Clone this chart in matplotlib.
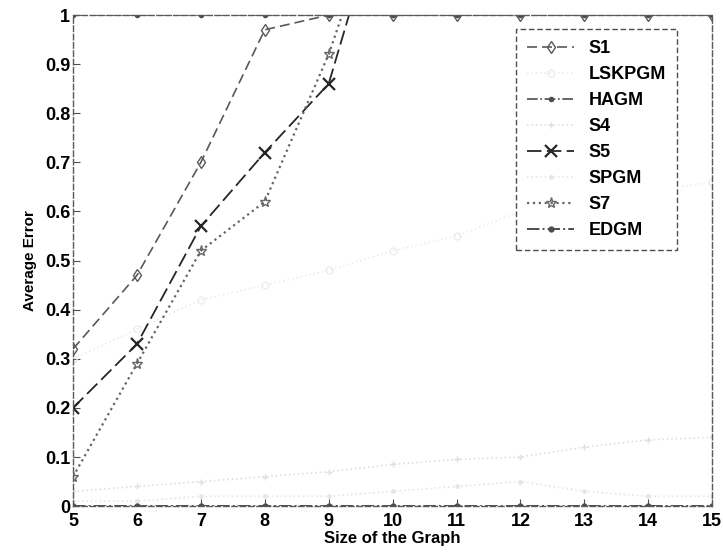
import numpy as np
import matplotlib
matplotlib.use("Agg")
import matplotlib.pyplot as plt

plt.rcParams['font.family'] = ['Liberation Sans', 'DejaVu Sans']
plt.rcParams['font.weight'] = 'bold'

# graph sizes
size = [5, 6, 7, 8, 9, 10, 11, 12, 13, 14, 15]

# average error per method (values above 1 are clipped by the axis)
s1 = [0.32, 0.47, 0.70, 0.97, 1.0, 1.0, 1.0, 1.0, 1.0, 1.0, 1.0]
lskpgm = [0.30, 0.36, 0.42, 0.45, 0.48, 0.52, 0.55, 0.60, 0.62, 0.64, 0.66]
hagm = [1.0, 1.0, 1.0, 1.0, 1.0, 1.0, 1.0, 1.0, 1.0, 1.0, 1.0]
s4 = [0.03, 0.04, 0.05, 0.06, 0.07, 0.085, 0.095, 0.10, 0.12, 0.135, 0.14]
s5 = [0.20, 0.33, 0.57, 0.72, 0.86, 1.3, 1.3, 1.3, 1.3, 1.3, 1.3]
spgm = [0.01, 0.01, 0.02, 0.02, 0.02, 0.03, 0.04, 0.05, 0.03, 0.02, 0.02]
s7 = [0.06, 0.29, 0.52, 0.62, 0.92, 1.3, 1.3, 1.3, 1.3, 1.3, 1.3]
edgm = [0.0, 0.0, 0.0, 0.0, 0.0, 0.0, 0.0, 0.0, 0.0, 0.0, 0.0]

fig = plt.figure(figsize=(7.23, 5.58), dpi=100)
ax = fig.add_axes([0.101, 0.093, 0.884, 0.880])

ax.plot(size, s1, color='0.35', ls=(0, (6, 3)), lw=1.2, marker='d', ms=6, mfc='none', label='S1')
ax.plot(size, lskpgm, color='0.93', ls=':', lw=1.2, marker='o', ms=5, mfc='none', label='LSKPGM')
ax.plot(size, hagm, color='0.3', ls='-.', lw=1.2, marker='.', ms=6, label='HAGM')
ax.plot(size, s4, color='0.88', ls=':', lw=1.2, marker='+', ms=5, label='S4')
ax.plot(size, s5, color='0.15', ls=(0, (8, 3)), lw=1.3, marker='x', ms=8, mew=1.6, label='S5')
ax.plot(size, spgm, color='0.9', ls=':', lw=1.2, marker='.', ms=5, label='SPGM')
ax.plot(size, s7, color='0.4', ls=':', lw=1.6, marker='*', ms=8, mfc='none', label='S7')
ax.plot(size, edgm, color='0.3', ls='-.', lw=1.4, marker='.', ms=7, label='EDGM')

ax.set_xlim(5, 15)
ax.set_ylim(0, 1)
ax.set_xticks(size)
ax.set_yticks([0, 0.1, 0.2, 0.3, 0.4, 0.5, 0.6, 0.7, 0.8, 0.9, 1])
ax.set_yticklabels(['0', '0.1', '0.2', '0.3', '0.4', '0.5', '0.6', '0.7', '0.8', '0.9', '1'])
ax.tick_params(direction='in', length=5, labelsize=13, color='0.3')
ax.tick_params(axis='x', pad=5)
ax.tick_params(axis='y', pad=2)
for lab in ax.get_xticklabels() + ax.get_yticklabels():
    lab.set_fontweight('bold')
for sp in ax.spines.values():
    sp.set_color('0.35')
    sp.set_linestyle((0, (4, 2)))
    sp.set_linewidth(1.0)

ax.set_xlabel('Size of the Graph', fontsize=12, fontweight='bold', labelpad=1)
ax.set_ylabel('Average Error', fontsize=11, fontweight='bold', labelpad=6)

leg = ax.legend(loc='upper right', bbox_to_anchor=(0.959, 0.99), fontsize=13,
                fancybox=False, framealpha=1, edgecolor='0.3', labelspacing=0.5,
                handlelength=2.6, borderpad=0.6)
leg.get_frame().set_linestyle((0, (4, 2)))
for t in leg.get_texts():
    t.set_fontweight('bold')

fig.savefig('out.png', dpi=100)
